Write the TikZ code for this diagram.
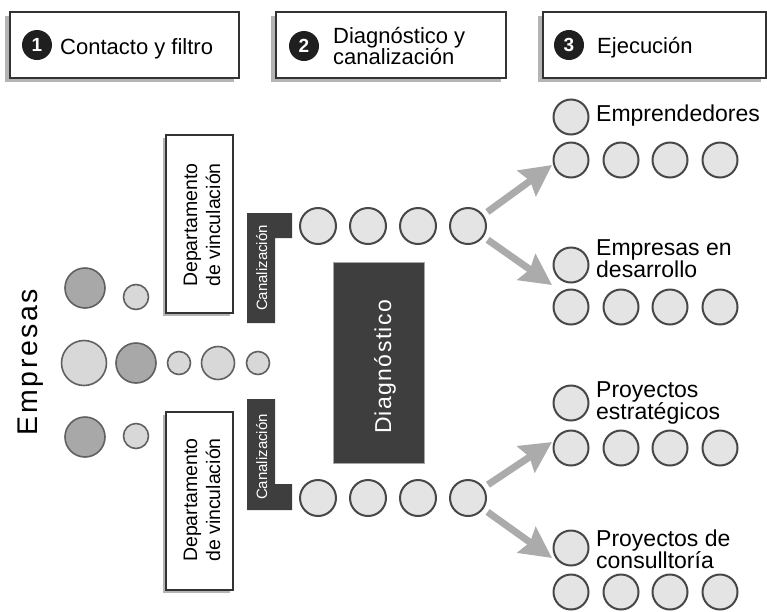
\documentclass[tikz,border=0pt]{standalone}
\usepackage{fontspec}
\setmainfont{Liberation Sans}
\newfontfamily\widefont[LetterSpace=9]{Liberation Sans}
\newfontfamily\diagfont[LetterSpace=6]{Liberation Sans}
\usetikzlibrary{arrows.meta,shadows}

\definecolor{frame}{HTML}{333333}
\definecolor{shade}{HTML}{B4B4B4}
\definecolor{ballfill}{HTML}{E4E4E4}
\definecolor{ballline}{HTML}{474747}
\definecolor{darkdot}{HTML}{A8A8A8}
\definecolor{lightdot}{HTML}{D8D8D8}
\definecolor{dotline}{HTML}{606060}
\definecolor{slab}{HTML}{3E3E3E}
\definecolor{flow}{HTML}{ABABAB}

\tikzset{
  stagebox/.style={draw=frame, line width=1.5pt, fill=white, inner sep=0pt,
    minimum height=66pt,
    drop shadow={shadow xshift=-5pt, shadow yshift=-4pt, fill=shade, opacity=1}},
  badge/.style={circle, fill=black!88, text=white, inner sep=0pt, minimum size=30pt,
    font=\bfseries\fontsize{19}{19}\selectfont},
  headtext/.style={anchor=base west, inner sep=0pt, font=\fontsize{22}{22}\selectfont},
  deptbox/.style={draw=frame, line width=1.5pt, fill=white, inner sep=0pt,
    minimum width=67pt, minimum height=178pt,
    drop shadow={shadow xshift=-3pt, shadow yshift=-3pt, fill=shade, opacity=1}},
  depttext/.style={rotate=90, align=center, inner sep=0pt, font=\fontsize{19.5}{23}\selectfont},
  canaltext/.style={rotate=90, anchor=base, inner sep=0pt, text=white,
    font=\fontsize{15}{15}\selectfont},
  bubble/.style={circle, draw=dotline, line width=1.6pt, inner sep=0pt, minimum size=#1},
  darkfill/.style={fill=darkdot},
  lightfill/.style={fill=lightdot},
  ball/.style={circle, draw=ballline, fill=ballfill, line width=2pt, inner sep=0pt,
    minimum size=35pt},
  outtext/.style={anchor=base west, inner sep=0pt, font=\fontsize{23}{23}\selectfont},
  flowarrow/.style={draw=flow, line width=7pt, shorten <=5pt,
    -{Stealth[length=31pt,width=31pt,inset=4pt]}},
}

\begin{document}
\begin{tikzpicture}[x=1pt,y=-1pt]
\useasboundingbox (0,0) rectangle (767,611);

% stage headers
\node[stagebox, minimum width=229pt] (h1) at (124.5,45) {};
\node[badge] (n1) at (37,45) {1};
\node[headtext] (h1t) at (60,54) {Contacto y filtro};

\node[stagebox, minimum width=230pt] (h2) at (391,45) {};
\node[badge] (n2) at (304,46) {2};
\node[headtext] (h2a) at (333,43) {Diagnóstico y};
\node[headtext] (h2b) at (333,64) {canalización};

\node[stagebox, minimum width=223pt] (h3) at (654.5,45) {};
\node[badge] (n3) at (569,45) {3};
\node[headtext] (h3t) at (597,53) {Ejecución};

% incoming companies
\node[rotate=90, anchor=base, inner sep=0pt, font=\widefont\fontsize{28.5}{28.5}\selectfont]
  (emp) at (37,362) {Empresas};
\node[bubble=40pt, darkfill]  (p1) at (85,288) {};
\node[bubble=25pt, lightfill] (p2) at (136,297) {};
\node[bubble=45pt, lightfill] (q1) at (84,363) {};
\node[bubble=40pt, darkfill]  (q2) at (136,363) {};
\node[bubble=23pt, lightfill] (q3) at (179,363) {};
\node[bubble=33pt, lightfill] (q4) at (218,363) {};
\node[bubble=23pt, lightfill] (q5) at (258,363) {};
\node[bubble=40pt, darkfill]  (r1) at (85,437) {};
\node[bubble=25pt, lightfill] (r2) at (136,436) {};

% liaison departments
\node[deptbox] (dep1) at (199.5,224) {};
\node[depttext] (dep1t) at (202,225) {Departamento\\de vinculación};
\node[deptbox] (dep2) at (199.5,501) {};
\node[depttext] (dep2t) at (202,500) {Departamento\\de vinculación};

% channelling brackets
\fill[slab] (247,213) -- (292,213) -- (292,238) -- (275,238) -- (275,323) -- (247,323) -- cycle;
\node[canaltext] (can1) at (267,268) {Canalización};
\fill[slab] (247,399) -- (275,399) -- (275,484) -- (292,484) -- (292,510) -- (247,510) -- cycle;
\node[canaltext] (can2) at (267,457) {Canalización};

% diagnosis block
\node[draw=gray!70, line width=1pt, fill=slab, minimum width=91pt, minimum height=201pt,
  inner sep=0pt] (diag) at (378.5,362.5) {};
\node[rotate=90, anchor=base, inner sep=0pt, text=white,
  font=\diagfont\fontsize{23}{23}\selectfont] (diagt) at (391,367) {Diagnóstico};

% channelled rows
\foreach \i/\x in {1/318,2/368,3/418,4/468} {
  \node[ball, minimum size=36pt] (t\i) at (\x,226) {};
  \node[ball, minimum size=36pt] (b\i) at (\x,498) {};
}

% execution groups
\node[ball] (s1) at (571,117) {};
\node[ball] (s2) at (571,265) {};
\node[ball] (s3) at (571,403) {};
\node[ball] (s4) at (571,548) {};
\foreach \i/\x in {a/571,b/621,c/670,d/720} {
  \node[ball] (ra\i) at (\x,160) {};
  \node[ball] (rb\i) at (\x,307) {};
  \node[ball] (rc\i) at (\x,448) {};
  \node[ball] (rd\i) at (\x,592) {};
}

\node[outtext] (g1) at (596,121) {Emprendedores};
\node[outtext] (g2a) at (596,255) {Empresas en};
\node[outtext] (g2b) at (596,277) {desarrollo};
\node[outtext] (g3a) at (596,397) {Proyectos};
\node[outtext] (g3b) at (596,419) {estratégicos};
\node[outtext] (g4a) at (596,546) {Proyectos de};
\node[outtext] (g4b) at (596,568) {consulltoría};

% flow arrows
\coordinate (tipA) at (552,165);
\coordinate (tipB) at (552,285);
\coordinate (tipC) at (552,442);
\coordinate (tipD) at (552,558);
\draw[flowarrow] (t4) -- (tipA);
\draw[flowarrow] (t4) -- (tipB);
\draw[flowarrow] (b4) -- (tipC);
\draw[flowarrow] (b4) -- (tipD);
\end{tikzpicture}
\end{document}
